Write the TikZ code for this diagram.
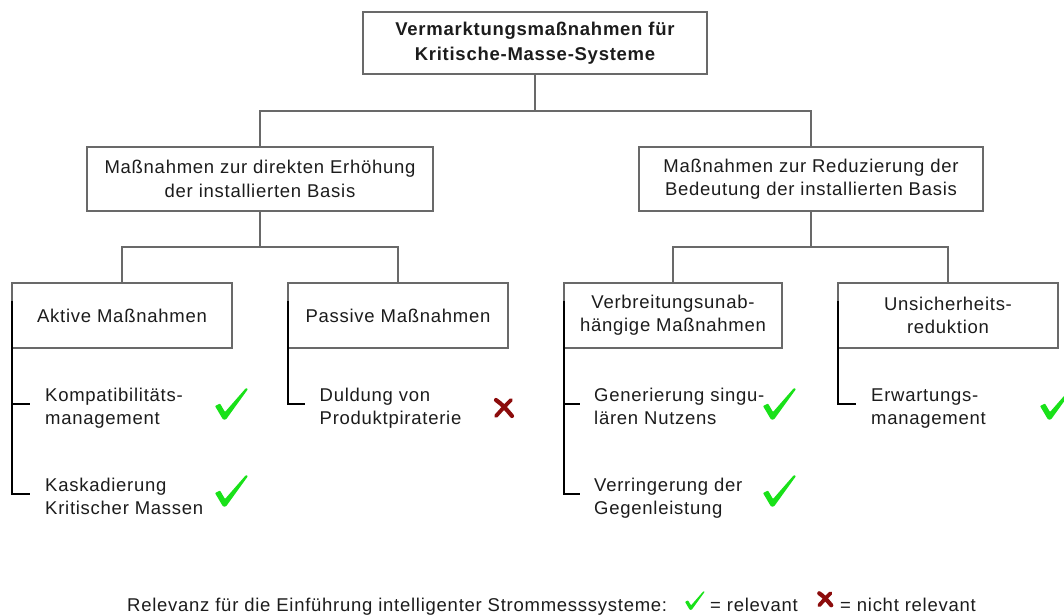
\documentclass[tikz,border=0pt]{standalone}
\usepackage{fontspec}
\setmainfont{Liberation Sans}[LetterSpace=4]
\newcommand\diagfont{\fontsize{18.5}{23.3}\selectfont}
\newcommand\titlefont{\fontsize{18.5}{25.5}\selectfont\bfseries}
\definecolor{boxgray}{RGB}{105,105,105}
\definecolor{okgreen}{RGB}{25,225,25}
\definecolor{nored}{RGB}{140,12,12}
\definecolor{inkc}{RGB}{28,28,28}
\begin{document}
\begin{tikzpicture}[x=1pt, y=-1pt,
  box/.style={draw=boxgray, line width=1.2pt, fill=white, inner sep=0pt,
    minimum height=64pt, align=center, text=inkc, font=\diagfont},
  item/.style={anchor=west, align=left, inner xsep=15pt, inner ysep=0pt,
    text=inkc, font=\diagfont},
  link/.style={draw=boxgray, line width=1.2pt},
  bracket/.style={draw=black, line width=1.2pt},
  legtext/.style={anchor=base west, inner sep=0pt, text=inkc, font=\diagfont},
  okmark/.pic={\fill[okgreen, rounded corners=0.8pt]
    (0,18) -- (5,15.5) -- (10,24) -- (31,0) -- (33,1) -- (11,31.5) -- (8,31.5) -- cycle;},
  nomark/.pic={
    \draw[nored, line width=4.2pt, line cap=round] (3,3) .. controls (9,7) and (14,13) .. (19,19);
    \draw[nored, line width=3.8pt, line cap=round] (18,3) .. controls (12,9) .. (3,19);}
]
\clip (0,0) rectangle (1064,614);
\fill[white] (0,0) rectangle (1064,614);

% hierarchy boxes
\node[box, minimum width=344pt, minimum height=62pt, font=\titlefont] (top) at (535,43)
  {Vermarktungsmaßnahmen für\\Kritische-Masse-Systeme};
\node[box, minimum width=346pt] (dir) at (260,179)
  {Maßnahmen zur direkten Erhöhung\\der installierten Basis};
\node[box, minimum width=344pt] (red) at (811,179)
  {Maßnahmen zur Reduzierung der\\Bedeutung der installierten Basis};
\node[box, minimum width=220pt, minimum height=65pt] (akt) at (122,315.5) {Aktive Maßnahmen};
\node[box, minimum width=220pt, minimum height=65pt] (pas) at (398,315.5) {Passive Maßnahmen};
\node[box, minimum width=218pt, minimum height=65pt] (verb) at (673,315.5)
  {Verbreitungsunab-\\hängige Maßnahmen};
\node[box, minimum width=220pt, minimum height=65pt] (uns) at (948,315.5)
  {Unsicherheits-\\reduktion};

% tree connectors
\coordinate (j0) at (535,111);
\coordinate (j1) at (260,247);
\coordinate (j2) at (811,247);
\draw[link] (top) -- (j0);
\draw[link] (dir.north) |- (j0) -| (red.north);
\draw[link] (dir) -- (j1);
\draw[link] (akt.north) |- (j1) -| (pas.north);
\draw[link] (red) -- (j2);
\draw[link] (verb.north) |- (j2) -| (uns.north);

% measures under each box
\node[item] (k1) at (30,408) {Kompatibilitäts-\strut\\management\strut};
\node[item] (k2) at (30,498) {Kaskadierung\strut\\Kritischer Massen\strut};
\node[item, inner xsep=14.5pt] (d1) at (305,408) {Duldung von\strut\\Produktpiraterie\strut};
\node[item, inner xsep=14pt] (g1) at (580,408) {Generierung singu-\strut\\lären Nutzens\strut};
\node[item, inner xsep=14pt] (g2) at (580,498) {Verringerung der\strut\\Gegenleistung\strut};
\node[item] (e1) at (856,408) {Erwartungs-\strut\\management\strut};

\draw[bracket] ([shift={(0.5pt,-19pt)}]akt.north west) |- ([yshift=4pt]k1.west);
\draw[bracket] ([shift={(0.5pt,-19pt)}]akt.north west) |- ([yshift=4pt]k2.west);
\draw[bracket] ([shift={(0.5pt,-19pt)}]pas.north west) |- ([yshift=4pt]d1.west);
\draw[bracket] ([shift={(0.5pt,-19pt)}]verb.north west) |- ([yshift=4pt]g1.west);
\draw[bracket] ([shift={(0.5pt,-19pt)}]verb.north west) |- ([yshift=4pt]g2.west);
\draw[bracket] ([shift={(0.5pt,-19pt)}]uns.north west) |- ([yshift=4pt]e1.west);

% relevance marks
\pic at (215,388) {okmark};
\pic at (215,475) {okmark};
\pic at (493,397) {nomark};
\pic at (763,388) {okmark};
\pic at (763,475) {okmark};
\pic at (1040,388) {okmark};

% legend
\node[legtext] (leg) at (127,611) {Relevanz für die Einführung intelligenter Strommesssysteme:};
\pic[scale=0.6] at (685,591) {okmark};
\node[legtext] (legok) at (710,611) {= relevant};
\pic[scale=0.75] at (817,591) {nomark};
\node[legtext] (legno) at (840,611) {= nicht relevant};
\end{tikzpicture}
\end{document}
